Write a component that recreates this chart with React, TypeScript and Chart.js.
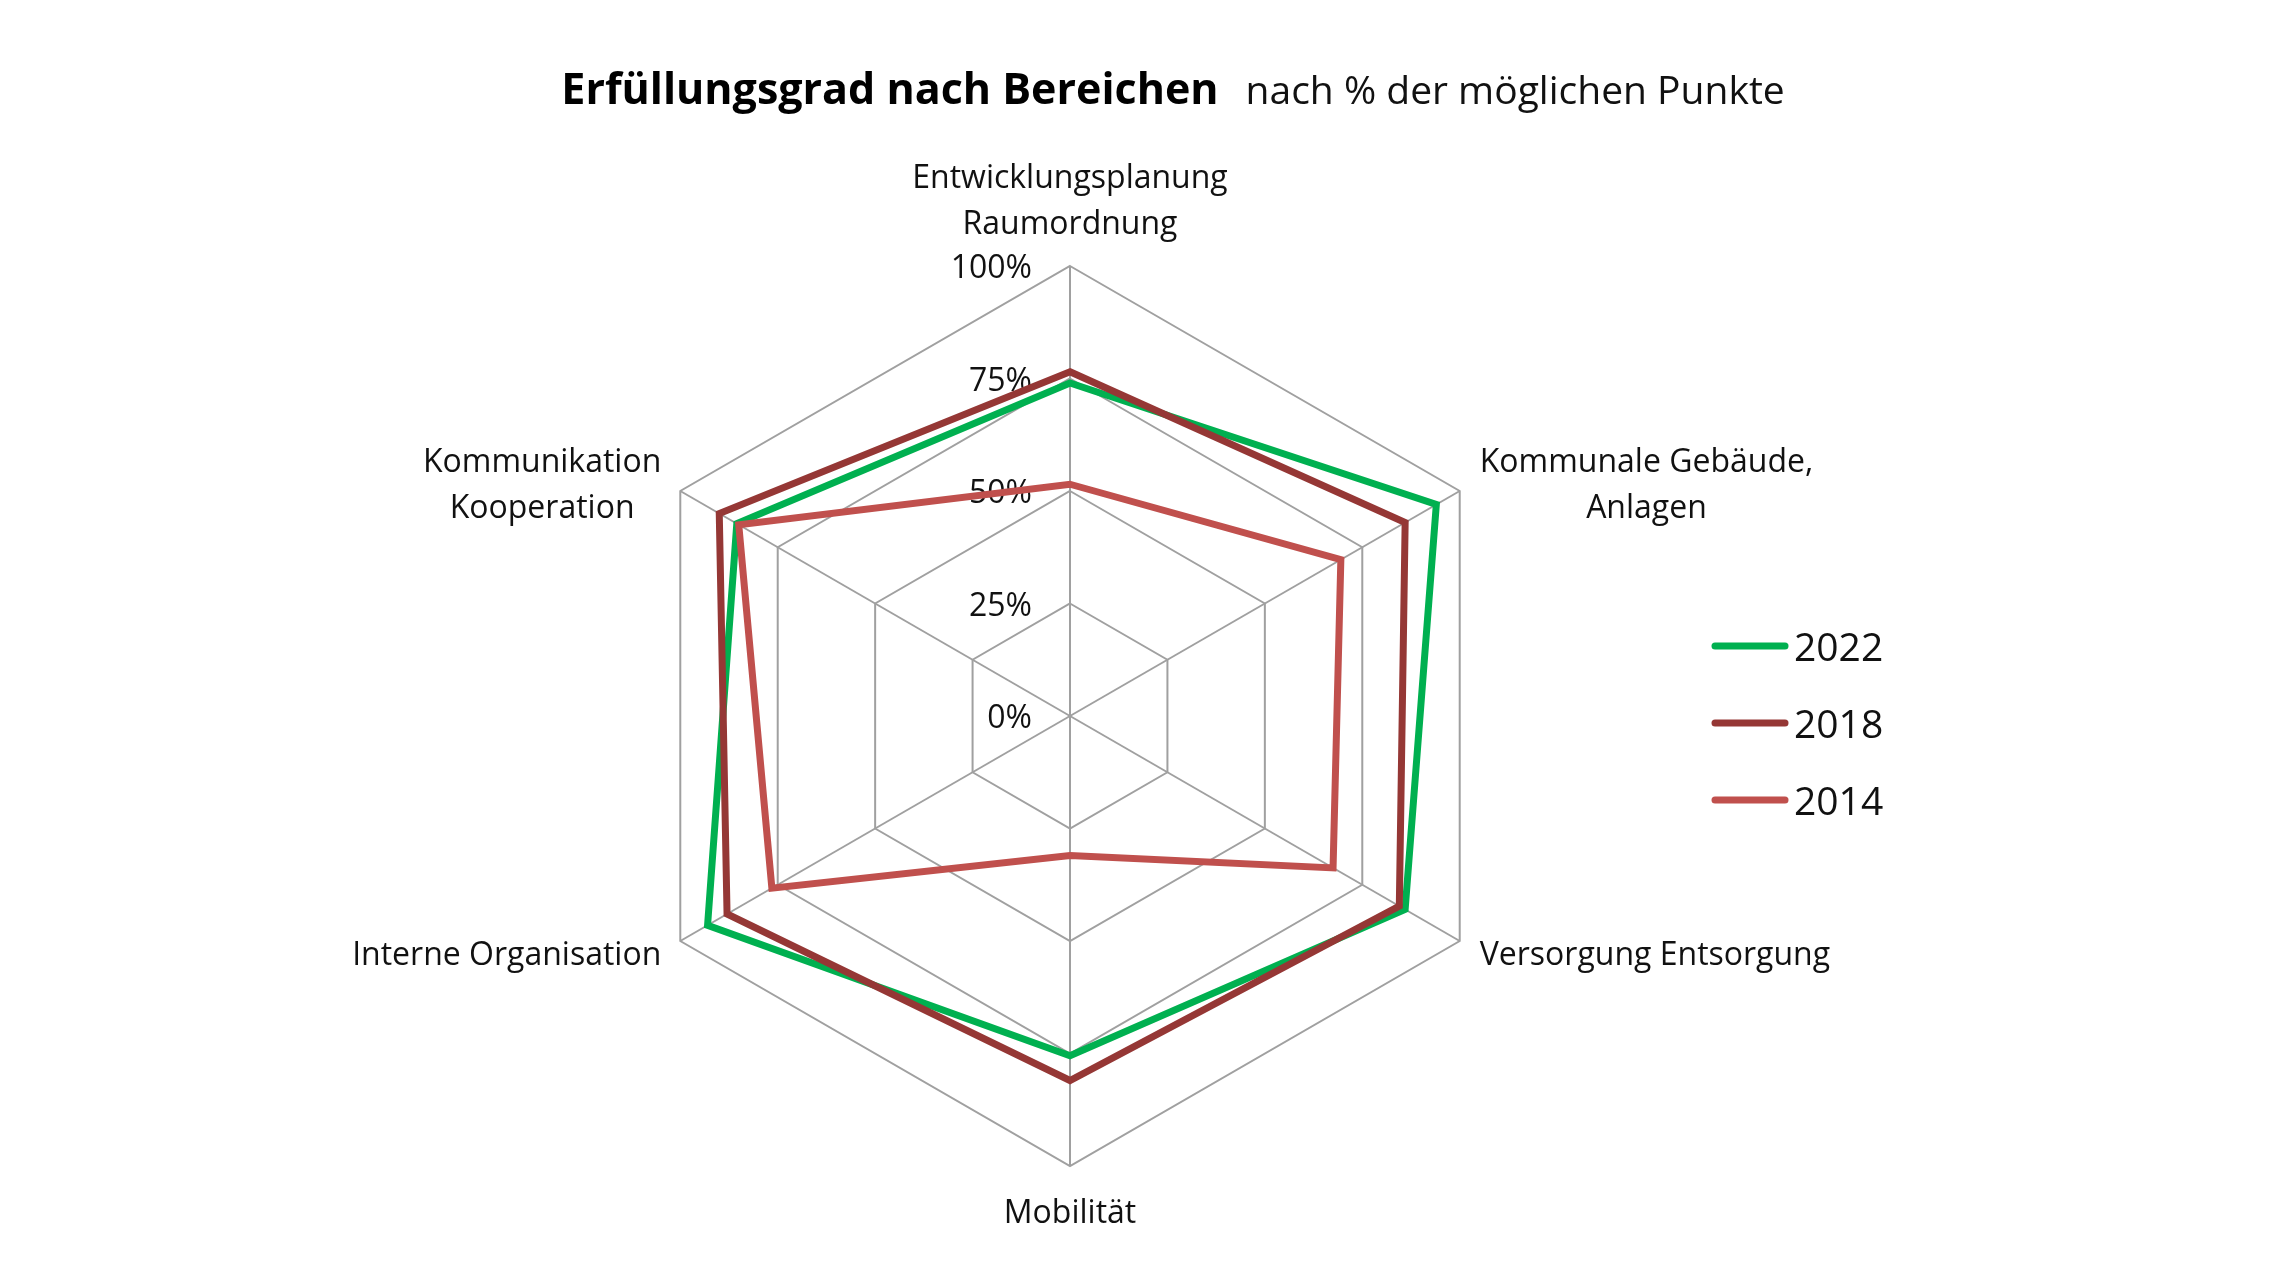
import React, { useEffect, useRef } from "react";
import { Chart, registerables } from "chart.js";

Chart.register(...registerables);

// ---------- data ----------
const categories: string[][] = [
  ["Entwicklungsplanung", "Raumordnung"],
  ["Kommunale Gebäude,", "Anlagen"],
  ["Versorgung Entsorgung"],
  ["Mobilität"],
  ["Interne Organisation"],
  ["Kommunikation", "Kooperation"],
];
const seriesNames = ["2022", "2018", "2014"];
const values2022 = [74, 94, 86, 75.5, 93, 85.5];
const values2018 = [76.5, 86, 84.5, 81, 88, 90];
const values2014 = [51.5, 69.5, 67.5, 31, 76.5, 85];
const seriesColors = ["#00B050", "#953735", "#C0504D"];
const tickValues = [0, 25, 50, 75, 100];
const chartTitle = "Erfüllungsgrad nach Bereichen";
const chartSubtitle = "nach % der möglichen Punkte";

const W = 2280;
const H = 1283;
const TEXT = "#111111";
const GRID = "#a0a0a0";
const FONT = '"Open Sans", "DejaVu Sans", sans-serif';

const overlayPlugin = {
  id: "overlay",
  beforeDatasetsDraw(chart: any) {
    const scale = chart.scales.r;
    const ctx = chart.ctx;
    ctx.save();
    ctx.font = `32px ${FONT}`;
    ctx.fillStyle = TEXT;
    ctx.textAlign = "right";
    ctx.textBaseline = "middle";
    for (const v of tickValues) {
      const p = scale.getPointPositionForValue(0, v);
      ctx.fillText(`${v}%`, p.x - 38, p.y + 3);
    }
    ctx.restore();
  },
  afterDraw(chart: any) {
    const scale = chart.scales.r;
    const ctx = chart.ctx;
    ctx.save();
    // point labels
    ctx.font = `32px ${FONT}`;
    ctx.fillStyle = TEXT;
    ctx.textBaseline = "middle";
    ctx.textAlign = "center";
    const lh = 46;
    const n = chart.data.labels.length;
    for (let i = 0; i < n; i++) {
      const lines: string[] = chart.data.labels[i];
      const p = scale.getPointPositionForValue(i, 100);
      const w = Math.max(...lines.map((l) => ctx.measureText(l).width));
      lines.forEach((line, j) => {
        let x = p.x;
        let y = p.y;
        if (i === 0) {
          y = p.y - 41 - (lines.length - 1 - j) * lh;
        } else if (i === n / 2) {
          y = p.y + 48 + j * lh;
        } else {
          const right = i < n / 2;
          x = right ? p.x + 20 + w / 2 : p.x - 19 - w / 2;
          y = lines.length === 1 ? p.y + 15 : p.y - 28 + j * lh;
        }
        ctx.fillText(line, x, y);
      });
    }
    // legend
    ctx.textAlign = "left";
    ctx.font = `39px ${FONT}`;
    chart.data.datasets.forEach((ds: any, i: number) => {
      const y = 646 + i * 77;
      ctx.strokeStyle = ds.borderColor;
      ctx.lineWidth = 7;
      ctx.lineCap = "round";
      ctx.beginPath();
      ctx.moveTo(1715, y);
      ctx.lineTo(1785, y);
      ctx.stroke();
      ctx.fillStyle = TEXT;
      ctx.fillText(ds.label, 1794, y + 4);
    });
    // title
    ctx.textBaseline = "alphabetic";
    const titleFont = `bold 43px ${FONT}`;
    const subFont = `39px ${FONT}`;
    ctx.font = titleFont;
    const w1 = ctx.measureText(chartTitle).width;
    ctx.font = subFont;
    const w2 = ctx.measureText(chartSubtitle).width;
    const gap = 27;
    const start = 1173 - (w1 + gap + w2) / 2;
    ctx.fillStyle = "#000";
    ctx.font = titleFont;
    ctx.fillText(chartTitle, start, 104);
    ctx.font = subFont;
    ctx.fillStyle = TEXT;
    ctx.fillText(chartSubtitle, start + w1 + gap, 104);
    ctx.restore();
  },
};

export default function App() {
  const ref = useRef<HTMLCanvasElement | null>(null);
  useEffect(() => {
    if (!ref.current) return;
    const seriesValues = [values2022, values2018, values2014];
    const chart = new Chart(ref.current, {
      type: "radar",
      data: {
        labels: categories,
        datasets: seriesNames.map((name, i) => ({
          label: name,
          data: seriesValues[i],
          borderColor: seriesColors[i],
          backgroundColor: "transparent",
          borderWidth: 7,
          borderJoinStyle: "miter" as const,
          pointRadius: 0,
          pointHoverRadius: 0,
          fill: false,
          tension: 0,
          order: seriesNames.length - 1 - i,
        })),
      },
      options: {
        responsive: false,
        animation: false,
        devicePixelRatio: 1,
        layout: { padding: { left: 620, right: 760, top: 266, bottom: 117 } },
        plugins: {
          legend: { display: false },
          title: { display: false },
          tooltip: { enabled: false },
        },
        scales: {
          r: {
            min: 0,
            max: 100,
            beginAtZero: true,
            ticks: { stepSize: 25, display: false },
            grid: { color: GRID, lineWidth: 2, circular: false },
            angleLines: { color: GRID, lineWidth: 2 },
            pointLabels: { display: false },
          },
        },
      },
      plugins: [overlayPlugin],
    });
    return () => chart.destroy();
  }, []);
  return (
    <div style={{ position: "absolute", left: 0, top: 0, width: W, height: H, background: "#fff" }}>
      <canvas ref={ref} width={W} height={H} style={{ width: W, height: H, display: "block" }} />
    </div>
  );
}
